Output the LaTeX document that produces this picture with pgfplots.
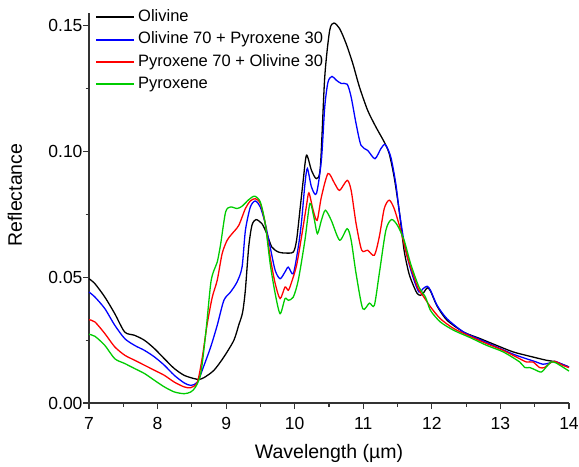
\documentclass[border=0pt]{standalone}
\usepackage{fontspec}
\setmainfont{Liberation Sans}
\usepackage{pgfplots}
\pgfplotsset{compat=1.18}
\definecolor{olv}{RGB}{0,0,0}
\definecolor{mixb}{RGB}{0,0,255}
\definecolor{mixr}{RGB}{255,0,0}
\definecolor{pyx}{RGB}{0,204,0}

\begin{document}
\begin{tikzpicture}
\begin{axis}[
  width=480pt, height=390pt, scale only axis,
  xmin=7, xmax=14, ymin=0, ymax=0.155,
  xtick={7,8,...,14}, ytick={0,0.05,0.10,0.15},
  minor x tick num=1, minor y tick num=1,
  axis lines=left, axis line style={-, draw=black!80, line width=1.2pt},
  tick align=outside, tick style={black!80, line width=1.1pt},
  major tick length=6pt, minor tick length=3.5pt,
  /pgf/number format/assume math mode=true,
  scaled y ticks=false,
  yticklabel style={/pgf/number format/fixed, /pgf/number format/fixed zerofill,
    /pgf/number format/precision=2, font=\fontsize{17.5}{20}\selectfont, xshift=3pt},
  xticklabel style={font=\fontsize{17.5}{20}\selectfont, yshift=-5pt},
  xlabel={Wavelength (µm)}, ylabel={Reflectance},
  label style={font=\fontsize{19.5}{22}\selectfont},
  xlabel style={at={(axis description cs:0.5,0)}, anchor=base, yshift=-55pt},
  ylabel style={at={(axis description cs:-0.1396,0.533)}, anchor=base},
  legend cell align=left,
  legend style={draw=none, fill=none, at={(axis description cs:0,1)}, anchor=north west,
    xshift=4pt, yshift=6.6pt, font=\fontsize{16.5}{19}\selectfont, row sep=4.8pt,
    nodes={inner sep=1pt, text height=12pt, text depth=3.5pt},
    /tikz/every odd column/.append style={column sep=3pt}},
  legend image code/.code={\fill[#1, draw=none] (0pt,-1.1pt) rectangle (38pt,1.1pt);},
  every axis plot/.append style={line width=1.3pt, smooth, tension=0.45},
  clip=false,
]
\addplot[olv] coordinates {
(7.0,0.0494) (7.087,0.0474) (7.231,0.0421) (7.376,0.0355) (7.521,0.0282)
(7.665,0.0269) (7.810,0.0249) (7.955,0.0216) (8.099,0.0176) (8.244,0.0137)
(8.388,0.0110) (8.533,0.0097) (8.605,0.0094) (8.678,0.0101) (8.822,0.0130)
(8.967,0.0183) (9.112,0.0249) (9.184,0.0310) (9.24,0.0360) (9.28,0.0448)
(9.329,0.0620) (9.376,0.0706) (9.434,0.0729) (9.521,0.0713) (9.593,0.0673)
(9.666,0.0620) (9.762,0.0600) (9.859,0.0596) (9.979,0.0600) (10.027,0.0647)
(10.076,0.0766) (10.124,0.0885) (10.172,0.0985) (10.244,0.0925) (10.316,0.0892)
(10.374,0.0938) (10.438,0.1296) (10.510,0.1481) (10.572,0.1510) (10.655,0.1488)
(10.750,0.1428) (10.847,0.1349) (10.944,0.1256) (11.064,0.1163) (11.184,0.1097)
(11.306,0.1037) (11.378,0.0991) (11.450,0.0898) (11.523,0.0766) (11.595,0.0607)
(11.667,0.0514) (11.740,0.0461) (11.787,0.0435) (11.835,0.0428) (11.884,0.0440)
(11.932,0.0458) (11.980,0.0445) (12.077,0.0385) (12.221,0.0329) (12.463,0.0282)
(12.703,0.0256) (12.944,0.0229) (13.186,0.0203) (13.426,0.0186) (13.668,0.0170)
(13.812,0.0163) (14.0,0.0143)
};
\addlegendentry{Olivine}
\addplot[mixb] coordinates {
(7.0,0.0441) (7.087,0.0421) (7.231,0.0375) (7.376,0.0309) (7.521,0.0256)
(7.665,0.0229) (7.810,0.0209) (7.955,0.0183) (8.099,0.0150) (8.244,0.0110)
(8.388,0.0080) (8.485,0.0070) (8.581,0.0083) (8.678,0.0150) (8.775,0.0223)
(8.870,0.0309) (8.967,0.0408) (9.064,0.0441) (9.159,0.0481) (9.232,0.0540)
(9.281,0.0686) (9.353,0.0779) (9.425,0.0803) (9.498,0.0779) (9.570,0.0713)
(9.642,0.0620) (9.715,0.0527) (9.787,0.0494) (9.859,0.0521) (9.907,0.0540)
(9.979,0.0514) (10.052,0.0620) (10.099,0.0720) (10.149,0.0870) (10.185,0.0932)
(10.244,0.0859) (10.316,0.0832) (10.389,0.0965) (10.438,0.1177) (10.486,0.1276)
(10.544,0.1298) (10.606,0.1283) (10.678,0.1270) (10.765,0.1267) (10.823,0.1216)
(10.895,0.1110) (10.967,0.1024) (11.064,0.1004) (11.170,0.0971) (11.257,0.1011)
(11.320,0.1027) (11.401,0.0978) (11.474,0.0872) (11.523,0.0766) (11.595,0.0640)
(11.667,0.0554) (11.740,0.0488) (11.812,0.0441) (11.874,0.0455) (11.932,0.0464)
(11.980,0.0448) (12.077,0.0388) (12.221,0.0335) (12.463,0.0282) (12.703,0.0252)
(12.944,0.0223) (13.186,0.0194) (13.378,0.0176) (13.523,0.0163) (13.620,0.0154)
(13.715,0.0159) (13.788,0.0166) (13.909,0.0153) (14.0,0.0143)
};
\addlegendentry{Olivine 70 + Pyroxene 30}
\addplot[mixr] coordinates {
(7.0,0.0331) (7.087,0.0322) (7.231,0.0276) (7.376,0.0223) (7.521,0.0190)
(7.665,0.0170) (7.810,0.0150) (7.955,0.0130) (8.099,0.0110) (8.244,0.0083)
(8.388,0.0064) (8.485,0.0061) (8.581,0.0083) (8.653,0.0183) (8.725,0.0316)
(8.798,0.0421) (8.870,0.0488) (8.942,0.0594) (9.015,0.0647) (9.087,0.0673)
(9.184,0.0706) (9.281,0.0773) (9.353,0.0803) (9.425,0.0812) (9.498,0.0793)
(9.570,0.0713) (9.642,0.0580) (9.715,0.0475) (9.787,0.0415) (9.859,0.0461)
(9.907,0.0448) (9.955,0.0481) (10.027,0.0547) (10.099,0.0660) (10.172,0.0785)
(10.207,0.0835) (10.269,0.0766) (10.327,0.0726) (10.389,0.0819) (10.486,0.0912)
(10.583,0.0872) (10.655,0.0845) (10.765,0.0885) (10.823,0.0845) (10.895,0.0713)
(10.977,0.0607) (11.064,0.0607) (11.161,0.0587) (11.233,0.0660) (11.306,0.0773)
(11.378,0.0806) (11.450,0.0773) (11.546,0.0686) (11.643,0.0580) (11.740,0.0501)
(11.800,0.0455) (11.884,0.0421) (11.980,0.0382) (12.124,0.0335) (12.318,0.0296)
(12.558,0.0265) (12.800,0.0236) (13.041,0.0209) (13.281,0.0176) (13.378,0.0163)
(13.475,0.0163) (13.571,0.0141) (13.643,0.0141) (13.715,0.0157) (13.788,0.0166)
(13.909,0.0150) (14.0,0.0141)
};
\addlegendentry{Pyroxene 70 + Olivine 30}
\addplot[pyx] coordinates {
(7.0,0.0273) (7.087,0.0265) (7.231,0.0229) (7.376,0.0176) (7.521,0.0157)
(7.665,0.0137) (7.810,0.0117) (7.955,0.0090) (8.099,0.0064) (8.244,0.0044)
(8.388,0.0037) (8.485,0.0044) (8.555,0.0064) (8.630,0.0117) (8.702,0.0276)
(8.775,0.0475) (8.822,0.0527) (8.870,0.0560) (8.919,0.0630) (8.992,0.0759)
(9.064,0.0779) (9.159,0.0773) (9.232,0.0782) (9.329,0.0808) (9.415,0.0822)
(9.498,0.0799) (9.570,0.0713) (9.642,0.0554) (9.715,0.0435) (9.787,0.0355)
(9.859,0.0415) (9.907,0.0408) (9.979,0.0421) (10.052,0.0488) (10.149,0.0647)
(10.221,0.0793) (10.279,0.0739) (10.331,0.0673) (10.389,0.0726) (10.447,0.0766)
(10.533,0.0726) (10.655,0.0647) (10.765,0.0693) (10.823,0.0647) (10.895,0.0514)
(10.992,0.0375) (11.089,0.0397) (11.161,0.0388) (11.233,0.0514) (11.329,0.0686)
(11.411,0.0729) (11.498,0.0706) (11.595,0.0647) (11.690,0.0554) (11.812,0.0461)
(11.907,0.0421) (11.980,0.0368) (12.124,0.0322) (12.318,0.0289) (12.558,0.0260)
(12.800,0.0229) (13.041,0.0203) (13.281,0.0163) (13.354,0.0141) (13.426,0.0141)
(13.498,0.0133) (13.595,0.0123) (13.668,0.0143) (13.740,0.0163) (13.812,0.0159)
(14.0,0.0127)
};
\addlegendentry{Pyroxene}
\coordinate (bl) at (rel axis cs:0,0);
\coordinate (tr) at (rel axis cs:1,1);
\end{axis}
\pgfresetboundingbox
\path ([shift={(-89pt,-63.3pt)}]bl) rectangle ([shift={(10pt,13pt)}]tr);
\end{tikzpicture}
\end{document}
